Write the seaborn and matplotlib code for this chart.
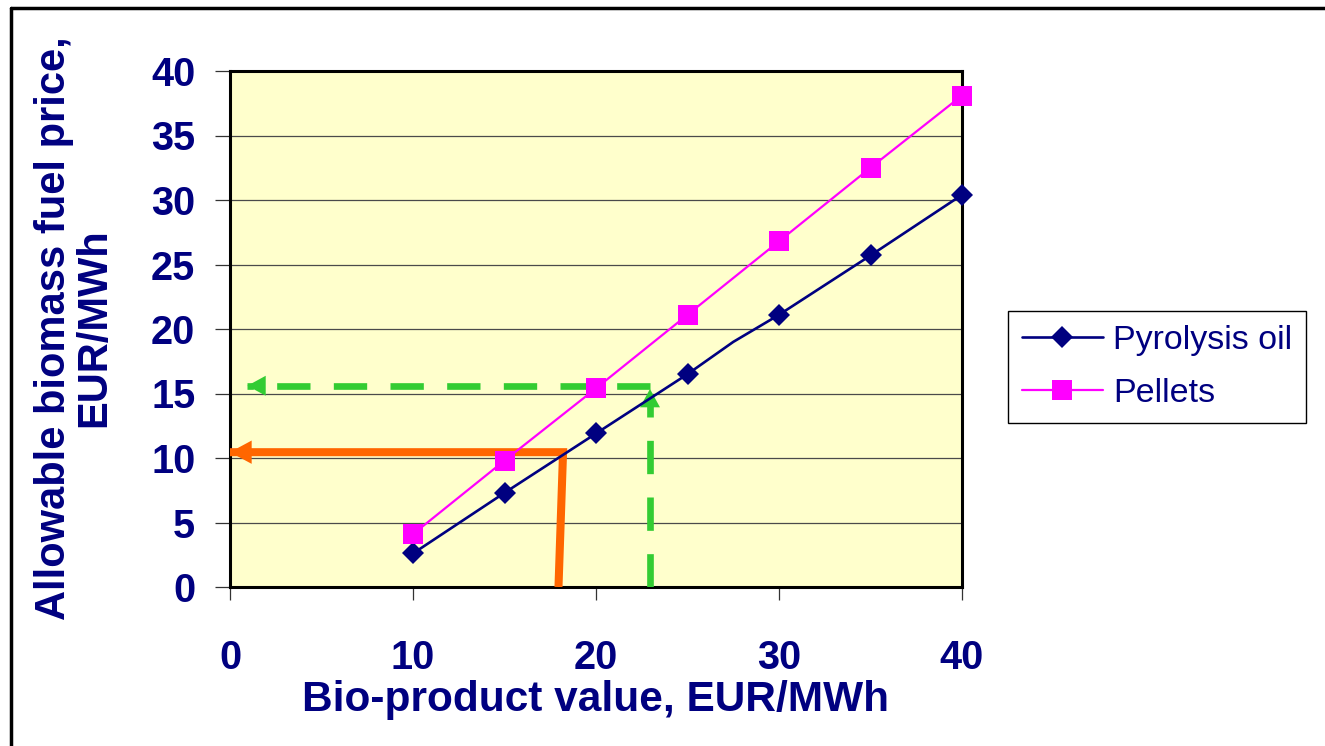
import matplotlib
matplotlib.use("Agg")
import matplotlib.pyplot as plt
import seaborn as sns
import pandas as pd
from matplotlib.lines import Line2D

# ---- data ----
pyro_x = [10, 15, 20, 25, 27.5, 30, 35, 40]
pyro_y = [2.6, 7.3, 11.9, 16.5, 19.0, 21.1, 25.7, 30.4]
pyro_marked = [0, 1, 2, 3, 5, 6, 7]
pell_x = [10, 15, 20, 25, 30, 35, 40]
pell_y = [4.1, 9.8, 15.4, 21.1, 26.8, 32.5, 38.1]

orange_x = [17.95, 18.2, 0.0]
orange_y = [0.0, 10.45, 10.45]
green_x = [22.95, 22.95, 0.95]
green_y = [0.0, 15.6, 15.6]
green_vtip = 15.35

x_ticks = [0, 10, 20, 30, 40]
y_ticks = [0, 5, 10, 15, 20, 25, 30, 35, 40]

sns.set_theme(style="white")
plt.rcParams['font.family'] = ['Liberation Sans', 'DejaVu Sans']

NAVY = "#000080"
MAG = "#FF00FF"
ORANGE = "#FF6600"
GREEN = "#33CC33"

fig = plt.figure(figsize=(13.25, 7.46), dpi=100)
ax = fig.add_axes([230/1325, 1-587/746, (962-230)/1325, (587-71)/746])
ax.set_facecolor("#FFFFCC")

df_p = pd.DataFrame({"x": pyro_x, "y": pyro_y})
df_q = pd.DataFrame({"x": pell_x, "y": pell_y})

# grid lines
for v in y_ticks:
    ax.axhline(v, color="#4a4a4a", lw=0.9, zorder=1)

# annotation lines
ax.plot(orange_x, orange_y, color=ORANGE, lw=5.8, solid_capstyle="butt",
        solid_joinstyle="miter", zorder=4)
ax.annotate("", xy=(orange_x[2], orange_y[2]), xytext=(orange_x[2] + 2.0, orange_y[2]),
            arrowprops=dict(arrowstyle="-|>,head_length=1.3,head_width=0.7",
                            color=ORANGE, lw=0, shrinkA=0, shrinkB=0), zorder=5)
ax.plot(green_x[:2], [green_y[0], green_vtip - 0.8], color=GREEN, lw=4.8,
        dashes=(5.0, 3.5), zorder=4)
ax.plot(green_x[1:], green_y[1:], color=GREEN, lw=4.8, dashes=(5.0, 3.5), zorder=4)
ax.annotate("", xy=(green_x[0], green_vtip), xytext=(green_x[0], green_vtip - 1.5),
            arrowprops=dict(arrowstyle="-|>,head_length=1.1,head_width=0.6",
                            color=GREEN, lw=0, shrinkA=0, shrinkB=0), zorder=5)
ax.annotate("", xy=(green_x[2], green_y[2]), xytext=(green_x[2] + 1.5, green_y[2]),
            arrowprops=dict(arrowstyle="-|>,head_length=1.1,head_width=0.6",
                            color=GREEN, lw=0, shrinkA=0, shrinkB=0), zorder=5)

sns.lineplot(data=df_p, x="x", y="y", ax=ax, color=NAVY, lw=1.9, marker="D",
             markersize=11, markeredgewidth=0, markevery=pyro_marked,
             label="Pyrolysis oil", zorder=6, estimator=None, sort=False,
             clip_on=False)
sns.lineplot(data=df_q, x="x", y="y", ax=ax, color=MAG, lw=1.6, marker="s",
             markersize=14, markeredgewidth=0, label="Pellets", zorder=6,
             estimator=None, sort=False, clip_on=False)

ax.set_xlim(0, 40)
ax.set_ylim(0, 40)
ax.set_xticks(x_ticks)
ax.set_yticks(y_ticks)
ax.tick_params(axis="y", direction="out", length=11, width=0.9, color="#333333",
               pad=14, labelsize=28.5, labelcolor=NAVY, left=True)
ax.tick_params(axis="x", direction="out", length=9.5, width=0.9, color="#333333",
               pad=28, labelsize=28.5, labelcolor=NAVY, bottom=True)
for lab in ax.get_xticklabels() + ax.get_yticklabels():
    lab.set_fontweight("bold")
for s in ax.spines.values():
    s.set_color("black")
    s.set_linewidth(2.2)

ax.set_xlabel("Bio-product value, EUR/MWh", fontsize=30.5, fontweight="bold",
              color=NAVY, labelpad=2)
ax.set_ylabel("")
fig.text(74/1325, 1-328/746, "Allowable biomass fuel price,\nEUR/MWh", rotation=90,
         ha="center", va="center", multialignment="center", fontsize=30,
         fontweight="bold", color=NAVY, linespacing=1.02)

leg = ax.legend(loc="center left", bbox_to_anchor=(1008/1325, 1-367/746),
                bbox_transform=fig.transFigure, fontsize=24.5, frameon=True,
                fancybox=False, edgecolor="black", framealpha=1,
                handlelength=2.4, borderpad=0.4, labelspacing=0.65,
                handletextpad=0.3, borderaxespad=0)
leg.get_frame().set_linewidth(1.0)
for t in leg.get_texts():
    t.set_color(NAVY)

# outer frame (left and top)
fig.add_artist(Line2D([11/1325, 11/1325], [0, 1-8/746], transform=fig.transFigure,
                      color="black", lw=2.5))
fig.add_artist(Line2D([11/1325, 1], [1-8/746, 1-8/746], transform=fig.transFigure,
                      color="black", lw=2.5))

fig.savefig("out.png", dpi=100)
